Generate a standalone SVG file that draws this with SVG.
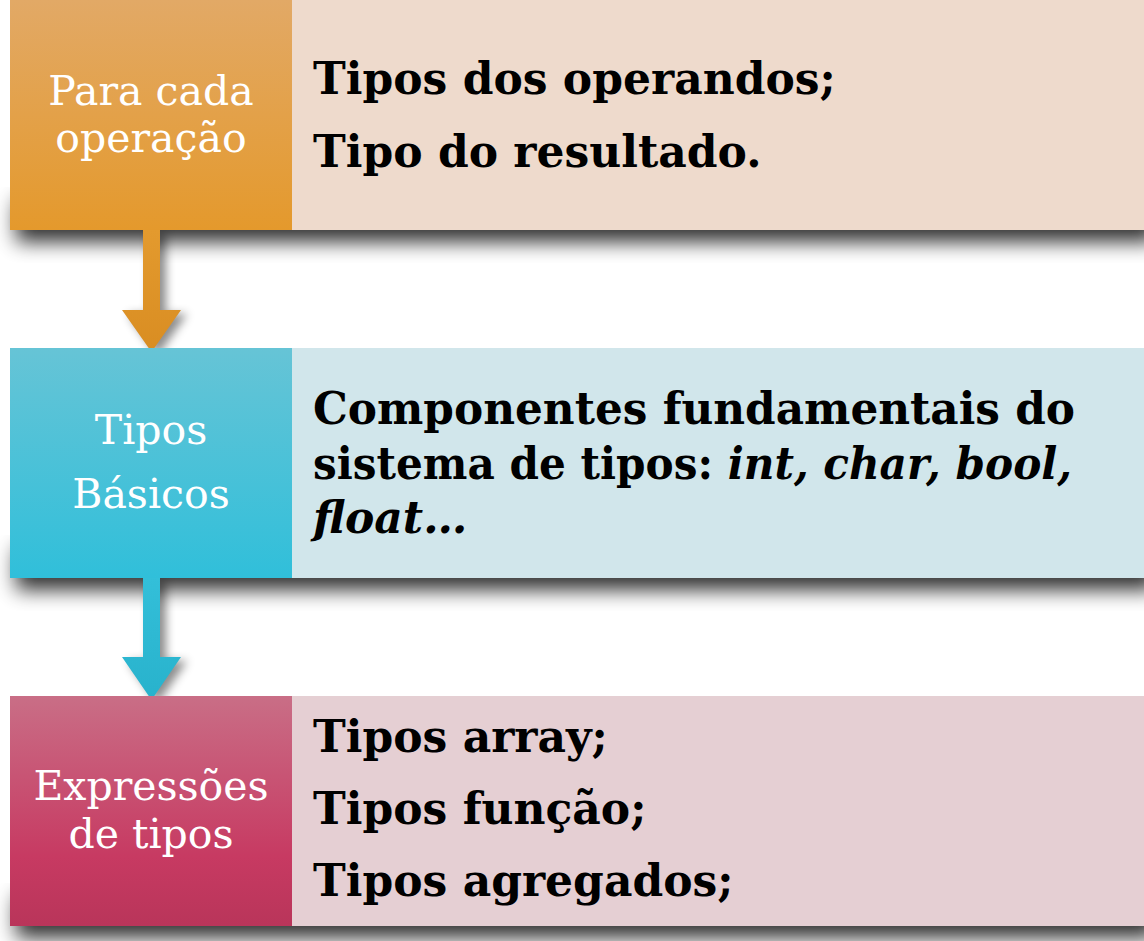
<svg xmlns="http://www.w3.org/2000/svg" width="1144" height="941" viewBox="0 0 1144 941">
<defs>
<linearGradient id="gO" x1="0" y1="0" x2="0" y2="1"><stop offset="0" stop-color="#e2a966"/><stop offset="1" stop-color="#e4992c"/></linearGradient>
<linearGradient id="gC" x1="0" y1="0" x2="0" y2="1"><stop offset="0" stop-color="#66c4d6"/><stop offset="1" stop-color="#30bfda"/></linearGradient>
<linearGradient id="gP" x1="0" y1="0" x2="0" y2="1"><stop offset="0" stop-color="#c96e86"/><stop offset="0.7" stop-color="#c73a62"/><stop offset="1" stop-color="#b9355a"/></linearGradient>
<linearGradient id="aO" x1="0" y1="0" x2="0" y2="1"><stop offset="0" stop-color="#e39a2e"/><stop offset="1" stop-color="#d98d22"/></linearGradient>
<linearGradient id="aC" x1="0" y1="0" x2="0" y2="1"><stop offset="0" stop-color="#33bfd9"/><stop offset="1" stop-color="#28b2cc"/></linearGradient>
<filter id="sh" x="-10%" y="-30%" width="120%" height="180%"><feGaussianBlur stdDeviation="10"/></filter>
<style>
.lab{font-family:"DejaVu Serif","Liberation Serif",serif;font-size:41px;fill:#fff;text-anchor:middle}
.txt{font-family:"DejaVu Serif","Liberation Serif",serif;font-size:44px;font-weight:bold;fill:#000}
.it{font-style:italic}
.shd{fill:#000;opacity:0.8;filter:url(#sh)}
</style>
</defs>
<g id="shadows">
<rect class="shd" x="16" y="200" width="1140" height="42"/>
<rect class="shd" x="16" y="548" width="1140" height="42"/>
<rect class="shd" x="16" y="896" width="1140" height="42"/>
</g>
<g id="connectors">
<path d="M143,230 H160 V310 H181 L151.5,352 L122,310 H143 Z" fill="url(#aO)" style="filter:drop-shadow(6px 4px 5px rgba(0,0,0,0.45))"/>
<path d="M143,578 H160 V657 H181 L151.5,700 L122,657 H143 Z" fill="url(#aC)" style="filter:drop-shadow(6px 4px 5px rgba(0,0,0,0.45))"/>
</g>
<g id="node-operacao">
<rect x="292" y="0" width="852" height="230" fill="#eedacc"/>
<rect x="10" y="0" width="282" height="230" fill="url(#gO)"/>
<text class="lab" x="151" y="105">Para cada</text>
<text class="lab" x="151" y="152">operação</text>
<text class="txt" x="313" y="94">Tipos dos operandos;</text>
<text class="txt" x="313" y="167">Tipo do resultado.</text>
</g>
<g id="node-basicos">
<rect x="292" y="348" width="852" height="230" fill="#d1e6eb"/>
<rect x="10" y="348" width="282" height="230" fill="url(#gC)"/>
<text class="lab" x="151" y="444">Tipos</text>
<text class="lab" x="151" y="508">Básicos</text>
<text class="txt" x="313" y="424" textLength="762" lengthAdjust="spacingAndGlyphs">Componentes fundamentais do</text>
<text class="txt" x="313" y="479" textLength="759" lengthAdjust="spacingAndGlyphs">sistema de tipos: <tspan class="it">int, char, bool,</tspan></text>
<text class="txt it" x="313" y="533">float…</text>
</g>
<g id="node-expressoes">
<rect x="292" y="696" width="852" height="230" fill="#e5cfd3"/>
<rect x="10" y="696" width="282" height="230" fill="url(#gP)"/>
<text class="lab" x="151" y="800">Expressões</text>
<text class="lab" x="151" y="848">de tipos</text>
<text class="txt" x="313" y="752">Tipos array;</text>
<text class="txt" x="313" y="824">Tipos função;</text>
<text class="txt" x="313" y="896">Tipos agregados;</text>
</g>
</svg>
